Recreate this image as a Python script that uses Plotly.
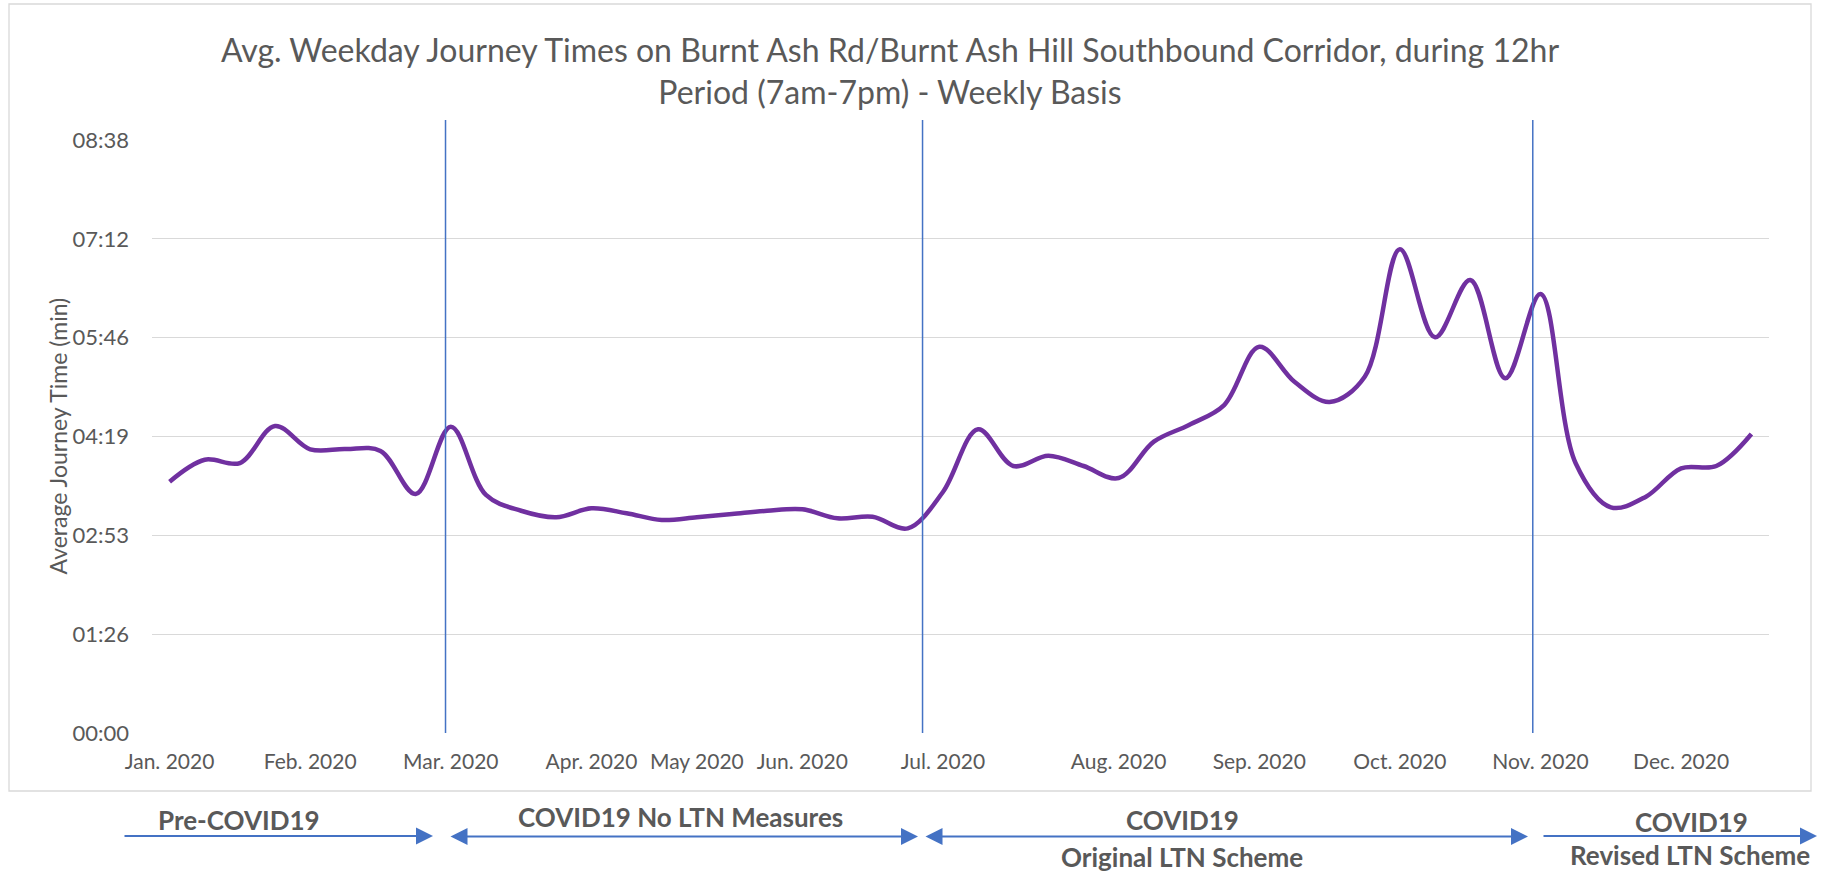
import plotly.graph_objects as go

# ---------------- data ----------------
journey_time_s = [
    219.7, 238.9, 236.0, 268.4, 248.0, 248.3, 246.6, 208.9, 267.8, 208.1,
    194.3, 188.6, 196.4, 192.1, 186.2, 188.6, 191.4, 194.3, 195.6, 187.7,
    189.1, 178.9, 210.7, 265.5, 233.4, 242.4, 233.4, 222.9, 254.7, 269.3,
    286.7, 337.7, 307.1, 289.4, 311.5, 422.9, 345.9, 396.0, 310.1, 383.8,
    235.8, 197.3, 206.6, 231.4, 233.4, 261.4,
]
week_index = list(range(len(journey_time_s)))

month_labels = ["Jan. 2020", "Feb. 2020", "Mar. 2020", "Apr. 2020", "May 2020", "Jun. 2020",
                "Jul. 2020", "Aug. 2020", "Sep. 2020", "Oct. 2020", "Nov. 2020", "Dec. 2020"]
month_label_week = [0, 4, 8, 12, 15, 18, 22, 27, 31, 35, 39, 43]

y_tick_values_s = [0, 86.4, 172.8, 259.2, 345.6, 432.0, 518.4]
y_tick_labels = ["00:00", "01:26", "02:53", "04:19", "05:46", "07:12", "08:38"]

phase_boundary_week = [7.85, 21.42, 38.78]

title_text = ("Avg. Weekday Journey Times on Burnt Ash Rd/Burnt Ash Hill Southbound Corridor, during 12hr<br>"
              "Period (7am-7pm) - Weekly Basis")

# ---------------- layout geometry (pixels) ----------------
W, H = 1825, 874
PL, PR, PT, PB = 152, 1769, 140, 733
PW, PH = PR - PL, PB - PT


def px_x(px):
    return (px - PL) / PW


def px_y(py):
    return (PB - py) / PH


GRAY = "#595959"
BLUE = "#4472C4"
FONT = "Lato, 'Open Sans', sans-serif"

fig = go.Figure()
fig.add_trace(go.Scatter(
    x=week_index, y=journey_time_s, mode="lines",
    line=dict(color="#7030A0", width=4.5, shape="spline", smoothing=1.0),
    showlegend=False, hoverinfo="skip",
))

shapes = []
# chart-area border
shapes.append(dict(type="rect", xref="paper", yref="paper",
                   x0=px_x(9), x1=px_x(1811), y0=px_y(791), y1=px_y(4),
                   line=dict(color="#d9d9d9", width=1.3), layer="below"))
for wk in phase_boundary_week:
    shapes.append(dict(type="line", xref="x", yref="paper", x0=wk, x1=wk,
                       y0=0, y1=px_y(120), line=dict(color=BLUE, width=1.5)))

annotations = []
# y-axis title
annotations.append(dict(text="Average Journey Time (min)", xref="paper", yref="paper",
                        x=px_x(57), y=0.5, textangle=-90, showarrow=False,
                        xanchor="center", yanchor="middle",
                        font=dict(family=FONT, size=23, color=GRAY)))

# phase labels below the chart: (text, centre x px, y px, vertical anchor, size)
phase_texts = [
    ("Pre-COVID19", 239, 820, "middle", 26),
    ("COVID19 No LTN Measures", 680, 817, "middle", 26),
    ("COVID19", 1182, 820, "middle", 26),
    ("Original LTN Scheme", 1182, 857, "middle", 26),
    ("COVID19", 1691, 822, "middle", 26),
    ("Revised LTN Scheme", 1690, 873, "bottom", 26),
]
for txt, cx, cy, va, fs in phase_texts:
    annotations.append(dict(text="<b>" + txt + "</b>", xref="paper", yref="paper",
                            x=px_x(cx), y=px_y(cy), showarrow=False,
                            xanchor="center", yanchor=va,
                            font=dict(family=FONT, size=fs, color=GRAY)))

# arrows: (start_px, tip_px, y_px, double)
arrows = [
    (123, 433, 836, False),
    (449, 918, 836.5, True),
    (924, 1528, 836.5, True),
    (1542, 1817, 836, False),
]
for x0, x1, yy, dbl in arrows:
    a = dict(text="", xref="paper", yref="paper", x=px_x(x1), y=px_y(yy),
             ax=-(x1 - x0), ay=0, axref="pixel", ayref="pixel",
             showarrow=True, arrowhead=2, arrowsize=1.7, arrowwidth=2,
             arrowcolor=BLUE, arrowside="end+start" if dbl else "end",
             standoff=0, startstandoff=0)
    if dbl:
        a["startarrowhead"] = 2
        a["startarrowsize"] = 1.7
    annotations.append(a)

fig.update_layout(
    width=W, height=H,
    margin=dict(l=PL, r=W - PR, t=PT, b=H - PB, pad=0),
    paper_bgcolor="white", plot_bgcolor="white",
    title=dict(text=title_text, x=890 / W, xref="container", xanchor="center",
               y=1 - 62 / H, yref="container", yanchor="middle",
               font=dict(family=FONT, size=32, color=GRAY)),
    xaxis=dict(range=[-0.5, len(journey_time_s) - 0.5], tickmode="array",
               tickvals=month_label_week, ticktext=month_labels,
               showgrid=False, zeroline=False, showline=False, ticks="",
               ticklabelstandoff=14,
               tickfont=dict(family=FONT, size=21, color=GRAY)),
    yaxis=dict(range=[0, 518.4], tickmode="array", tickvals=y_tick_values_s,
               ticktext=y_tick_labels, showgrid=True, gridcolor="#d9d9d9",
               gridwidth=1.3, zeroline=False, showline=False, ticks="",
               ticklabelstandoff=22,
               tickfont=dict(family=FONT, size=22, color=GRAY)),
    shapes=shapes, annotations=annotations,
)

fig.write_html("out.html", config={"displayModeBar": False},
               post_script="document.body.style.margin='0';")
